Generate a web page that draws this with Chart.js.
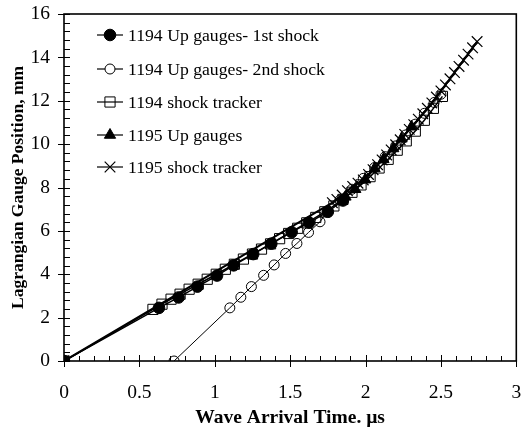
<!DOCTYPE html>
<html><head><meta charset="utf-8">
<script src="https://cdn.jsdelivr.net/npm/chart.js@4/dist/chart.umd.min.js"></script>
<style>html,body{margin:0;padding:0;background:#fff;}</style>
</head><body>
<canvas id="c" width="525" height="430" style="display:block;width:525px;height:430px"></canvas>
<script>
// ---- data ----
const seriesNames = ["1194 Up gauges- 1st shock", "1194 Up gauges- 2nd shock", "1194 shock tracker", "1195 Up gauges", "1195 shock tracker"];

const up1194FirstX = [0, 0.63, 0.76, 0.885, 1.015, 1.125, 1.255, 1.375, 1.51, 1.625, 1.75, 1.85];
const up1194FirstY = [0, 2.45, 2.93, 3.43, 3.94, 4.41, 4.93, 5.41, 5.94, 6.38, 6.88, 7.4];

const up1194SecondX = [0.73, 1.10, 1.173, 1.243, 1.324, 1.394, 1.47, 1.545, 1.622, 1.698, 1.75, 1.83, 1.91, 1.985, 2.06, 2.13, 2.20, 2.265, 2.33, 2.39, 2.455, 2.5];
const up1194SecondY = [0, 2.45, 2.94, 3.43, 3.95, 4.43, 4.96, 5.42, 5.93, 6.42, 6.92, 7.42, 7.92, 8.42, 8.92, 9.42, 9.92, 10.42, 10.92, 11.42, 11.92, 12.3];

const tracker1194X = [0, 0.59, 0.65, 0.71, 0.77, 0.83, 0.89, 0.95, 1.01, 1.07, 1.13, 1.19, 1.25, 1.31, 1.37, 1.43, 1.49, 1.55, 1.61, 1.67, 1.73, 1.79, 1.85, 1.91, 1.97, 2.03, 2.09, 2.15, 2.21, 2.27, 2.33, 2.39, 2.45, 2.51];
const tracker1194Y = [0, 2.38, 2.62, 2.85, 3.08, 3.31, 3.54, 3.77, 4.0, 4.23, 4.46, 4.7, 4.93, 5.16, 5.4, 5.64, 5.88, 6.12, 6.37, 6.62, 6.88, 7.15, 7.45, 7.78, 8.12, 8.5, 8.9, 9.3, 9.72, 10.15, 10.6, 11.1, 11.65, 12.2];

const up1195X = [1.867, 1.932, 1.998, 2.06, 2.119, 2.184, 2.239, 2.305];
const up1195Y = [7.57, 7.92, 8.36, 8.88, 9.3, 9.8, 10.25, 10.8];

const tracker1195X = [0, 1.78, 1.81, 1.845, 1.88, 1.915, 1.95, 1.985, 2.02, 2.05, 2.08, 2.11, 2.14, 2.17, 2.2, 2.23, 2.26, 2.29, 2.32, 2.35, 2.38, 2.41, 2.44, 2.47, 2.5, 2.53, 2.56, 2.59, 2.62, 2.65, 2.68, 2.71, 2.74];
const tracker1195Y = [0, 7.3, 7.45, 7.65, 7.85, 8.05, 8.2, 8.35, 8.6, 8.82, 9.05, 9.27, 9.5, 9.73, 9.97, 10.2, 10.45, 10.68, 10.9, 11.15, 11.4, 11.65, 11.9, 12.17, 12.45, 12.73, 13.01, 13.3, 13.58, 13.87, 14.15, 14.44, 14.73];

const xTickValues = [0, 0.5, 1, 1.5, 2, 2.5, 3];
const yTickValues = [0, 2, 4, 6, 8, 10, 12, 14, 16];
const xTitle = "Wave Arrival Time. \u00b5s";
const yTitle = "Lagrangian Gauge Position, mm";

// ---- build chart ----
const pts = (xs, ys) => xs.map((v, i) => ({x: v, y: ys[i]}));
const FONT = "'Liberation Serif', 'Times New Roman', serif";

const styles = [
  {pointStyle: 'circle', pointRadius: 5.8, pointBackgroundColor: '#000', pointBorderWidth: 1, borderWidth: 1.5},
  {pointStyle: 'circle', pointRadius: 5, pointBackgroundColor: 'rgba(0,0,0,0)', pointBorderWidth: 1, borderWidth: 1},
  {pointStyle: 'rect', pointRadius: 7.2, pointBackgroundColor: 'rgba(0,0,0,0)', pointBorderWidth: 1, borderWidth: 1.5},
  {pointStyle: 'triangle', pointRadius: 6.5, pointBackgroundColor: '#000', pointBorderWidth: 1, borderWidth: 1.5},
  {pointStyle: 'crossRot', pointRadius: 7.5, pointBackgroundColor: '#000', pointBorderWidth: 1.2, borderWidth: 2}
];
const dataArr = [
  pts(up1194FirstX, up1194FirstY),
  pts(up1194SecondX, up1194SecondY),
  pts(tracker1194X, tracker1194Y),
  pts(up1195X, up1195Y),
  pts(tracker1195X, tracker1195Y)
];
const datasets = seriesNames.map((n, i) => Object.assign({
  label: n, data: dataArr[i], showLine: true, borderColor: '#000', pointBorderColor: '#000',
  backgroundColor: '#000', pointHoverRadius: styles[i].pointRadius, tension: 0
}, styles[i]));

function drawMarker(ctx, style, r, x, y, fill, lw) {
  ctx.save();
  ctx.lineWidth = lw; ctx.strokeStyle = '#000'; ctx.fillStyle = fill;
  ctx.beginPath();
  if (style === 'circle') { ctx.arc(x, y, r, 0, Math.PI * 2); ctx.fill(); ctx.stroke(); }
  else if (style === 'rect') { const s = Math.SQRT1_2 * r; ctx.rect(x - s, y - s, 2 * s, 2 * s); ctx.fill(); ctx.stroke(); }
  else if (style === 'triangle') {
    let a = 0; ctx.moveTo(x + Math.sin(a) * r, y - Math.cos(a) * r);
    a += 2 * Math.PI / 3; ctx.lineTo(x + Math.sin(a) * r, y - Math.cos(a) * r);
    a += 2 * Math.PI / 3; ctx.lineTo(x + Math.sin(a) * r, y - Math.cos(a) * r);
    ctx.closePath(); ctx.fill(); ctx.stroke();
  } else if (style === 'crossRot') {
    const d = Math.SQRT1_2 * r;
    ctx.moveTo(x - d, y - d); ctx.lineTo(x + d, y + d);
    ctx.moveTo(x - d, y + d); ctx.lineTo(x + d, y - d); ctx.stroke();
  }
  ctx.restore();
}

const framePlugin = {
  id: 'frameTicks',
  afterDatasetsDraw(chart) {
    const {ctx, chartArea: a, scales: {x, y}} = chart;
    ctx.save();
    ctx.strokeStyle = '#000';
    ctx.lineWidth = 1;
    ctx.beginPath();
    for (let i = 0; i <= 30; i++) {
      const px = Math.round(x.getPixelForValue(i / 10)) + 0.5;
      if (i % 5 === 0) { ctx.moveTo(px, a.bottom - 6); ctx.lineTo(px, a.bottom + 6); }
      else { ctx.moveTo(px, a.bottom - 5); ctx.lineTo(px, a.bottom); }
    }
    for (let i = 0; i <= 40; i++) {
      const py = Math.round(y.getPixelForValue(i * 0.4)) + 0.5;
      if (i % 5 === 0) { ctx.moveTo(a.left - 6, py); ctx.lineTo(a.left + 6, py); }
      else { ctx.moveTo(a.left, py); ctx.lineTo(a.left + 6, py); }
    }
    ctx.stroke();
    ctx.lineWidth = 1.6;
    ctx.strokeRect(a.left, a.top, a.right - a.left, a.bottom - a.top);
    // legend inside plot
    const rows = [35, 69, 102, 135, 167];
    ctx.font = "17.7px " + FONT;
    ctx.fillStyle = '#000';
    ctx.textBaseline = 'middle';
    ctx.textAlign = 'left';
    seriesNames.forEach((n, i) => {
      const yy = rows[i];
      ctx.lineWidth = 1.2;
      ctx.beginPath(); ctx.moveTo(97, yy); ctx.lineTo(123, yy); ctx.stroke();
      const s = styles[i];
      drawMarker(ctx, s.pointStyle, s.pointRadius, 110, yy, s.pointStyle === 'circle' && s.pointBackgroundColor !== '#000' ? '#fff' : s.pointBackgroundColor, s.pointBorderWidth);
      ctx.fillText(n, 128, yy + 1);
    });
    ctx.restore();
  }
};

new Chart(document.getElementById('c'), {
  type: 'scatter',
  data: {datasets},
  options: {
    responsive: false, animation: false, devicePixelRatio: 1,
    layout: {padding: {left: 0, right: 0, top: 14, bottom: 0}},
    plugins: {legend: {display: false}, tooltip: {enabled: false}},
    scales: {
      x: {
        type: 'linear', min: 0, max: 3,
        afterBuildTicks: s => { s.ticks = xTickValues.map(v => ({value: v})); },
        afterFit: s => { s.height = 69; s.paddingLeft = 0; s.paddingRight = 0; },
        grid: {display: false, drawTicks: false}, border: {display: false},
        ticks: {color: '#000', padding: 20, font: {family: FONT, size: 19.5}, callback: v => String(v)},
        title: {display: true, text: xTitle, color: '#000', font: {family: FONT, size: 19.5, weight: 'bold'}, padding: {bottom: 0, top: 0}}
      },
      y: {
        type: 'linear', min: 0, max: 16,
        afterBuildTicks: s => { s.ticks = yTickValues.map(v => ({value: v})); },
        afterFit: s => { s.width = 64; s.paddingTop = 0; s.paddingBottom = 0; },
        grid: {display: false, drawTicks: false}, border: {display: false},
        ticks: {color: '#000', padding: 14, font: {family: FONT, size: 19.5}, callback: v => String(v)},
        title: {display: true, text: yTitle, color: '#000', font: {family: FONT, size: 17.5, weight: 'bold'}, padding: {top: 7.5}}
      }
    }
  },
  plugins: [framePlugin]
});
</script>
</body></html>
